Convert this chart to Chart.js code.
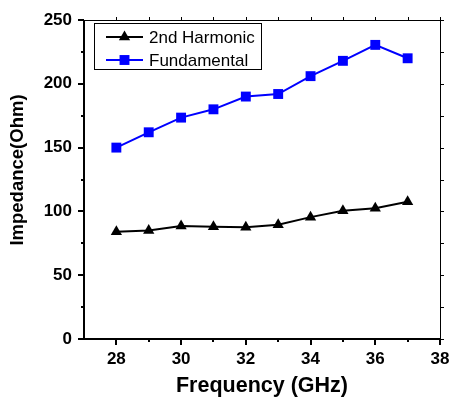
<!DOCTYPE html>
<html>
<head>
<meta charset="utf-8">
<script src="https://cdn.jsdelivr.net/npm/chart.js@4.4.0/dist/chart.umd.min.js"></script>
<style>
  html, body { margin: 0; padding: 0; background: #fff; }
</style>
</head>
<body>
<canvas id="chart" width="450" height="398"></canvas>
<script>
// data
const frequency = [28, 29, 30, 31, 32, 33, 34, 35, 36, 37];
const secondHarmonic = [84, 85, 88.5, 88, 87.5, 89.5, 95.5, 100.5, 102.5, 107.5];
const fundamental = [150, 162, 173.5, 180, 190, 192, 206, 218, 230.5, 220];
const xTicks = [28, 30, 32, 34, 36, 38];
const xMinorTicks = [29, 31, 33, 35, 37];
const yTicks = [0, 50, 100, 150, 200, 250];
const yMinorTicks = [25, 75, 125, 175, 225];
const yTitle = 'Impedance(Ohm)';

const FONT = "'Liberation Sans', Arial, sans-serif";

const toPoints = ys => frequency.map((x, i) => ({ x: x, y: ys[i] }));

// invisible grid, only used to push the tick labels away from the axis
const hiddenGrid = len => ({
    display: true,
    drawOnChartArea: false,
    drawTicks: true,
    tickLength: len,
    color: 'rgba(0,0,0,0)'
});

// Origin-style frame: thick left/bottom axes, thin mirrors, ticks outside
const framePlugin = {
    id: 'frame',
    afterDraw(chart) {
        const ctx = chart.ctx;
        const a = chart.chartArea;
        const xs = chart.scales.x;
        const ys = chart.scales.y;
        ctx.save();
        ctx.strokeStyle = '#000';

        // mirror axes
        ctx.lineWidth = 1;
        ctx.beginPath();
        ctx.moveTo(a.left, a.top + 0.5);
        ctx.lineTo(a.right, a.top + 0.5);
        ctx.moveTo(a.right + 0.5, a.top);
        ctx.lineTo(a.right + 0.5, a.bottom);
        ctx.stroke();

        // main axes
        ctx.lineWidth = 2;
        ctx.beginPath();
        ctx.moveTo(a.left, a.bottom);
        ctx.lineTo(a.right + 1, a.bottom);
        ctx.moveTo(a.left, a.top);
        ctx.lineTo(a.left, a.bottom + 1);
        ctx.stroke();

        // bottom / top ticks
        const tickX = (v, len) => {
            const px = Math.round(xs.getPixelForValue(v));
            ctx.beginPath();
            ctx.lineWidth = 2;
            ctx.moveTo(px, a.bottom);
            ctx.lineTo(px, a.bottom + len);
            ctx.stroke();
            ctx.lineWidth = 1;
            ctx.beginPath();
            ctx.moveTo(px + 0.5, a.top);
            ctx.lineTo(px + 0.5, a.top - 3);
            ctx.stroke();
        };
        xTicks.forEach(v => tickX(v, 6));
        xMinorTicks.forEach(v => tickX(v, 3));

        // left / right ticks
        const tickY = (v, len) => {
            const py = Math.round(ys.getPixelForValue(v));
            ctx.beginPath();
            ctx.lineWidth = 2;
            ctx.moveTo(a.left, py);
            ctx.lineTo(a.left - len, py);
            ctx.stroke();
            ctx.lineWidth = 1;
            ctx.beginPath();
            ctx.moveTo(a.right, py + 0.5);
            ctx.lineTo(a.right + 4, py + 0.5);
            ctx.stroke();
        };
        yTicks.forEach(v => tickY(v, 6));
        yMinorTicks.forEach(v => tickY(v, 3));

        // y title, sits a bit above the axis centre in the original
        ctx.translate(18, 170);
        ctx.rotate(-Math.PI / 2);
        ctx.fillStyle = '#000';
        ctx.font = 'bold 18.5px ' + FONT;
        ctx.textAlign = 'center';
        ctx.textBaseline = 'middle';
        ctx.fillText(yTitle, 0, 0);

        ctx.restore();
    }
};

// boxed legend with line sample + marker, like the original
const boxLegend = {
    id: 'boxLegend',
    afterDraw(chart) {
        const ctx = chart.ctx;
        const box = { x: 94.5, y: 23.5, w: 167, h: 46 };
        ctx.save();
        ctx.fillStyle = '#fff';
        ctx.fillRect(box.x, box.y, box.w, box.h);
        ctx.strokeStyle = '#000';
        ctx.lineWidth = 1;
        ctx.strokeRect(box.x, box.y, box.w, box.h);

        chart.data.datasets.forEach((ds, i) => {
            const cy = 37 + i * 23;
            ctx.strokeStyle = ds.borderColor;
            ctx.lineWidth = 2;
            ctx.beginPath();
            ctx.moveTo(106, cy);
            ctx.lineTo(143, cy);
            ctx.stroke();
            ctx.fillStyle = ds.pointBackgroundColor;
            ctx.strokeStyle = ds.pointBorderColor;
            Chart.helpers.drawPoint(ctx, {
                pointStyle: ds.pointStyle,
                radius: ds.pointRadius,
                rotation: 0,
                borderWidth: 0
            }, 124.5, cy);
            ctx.fillStyle = '#000';
            ctx.font = '17px ' + FONT;
            ctx.textBaseline = 'middle';
            ctx.textAlign = 'left';
            ctx.fillText(ds.label, 149, cy + 1);
        });
        ctx.restore();
    }
};

new Chart(document.getElementById('chart'), {
    type: 'line',
    data: {
        datasets: [{
            label: '2nd Harmonic',
            data: toPoints(secondHarmonic),
            borderColor: '#000',
            borderWidth: 2,
            pointStyle: 'triangle',
            pointRadius: 6.5,
            pointBackgroundColor: '#000',
            pointBorderColor: '#000',
            pointBorderWidth: 0
        }, {
            label: 'Fundamental',
            data: toPoints(fundamental),
            borderColor: '#0000ff',
            borderWidth: 2,
            pointStyle: 'rect',
            pointRadius: 7,
            pointBackgroundColor: '#0000ff',
            pointBorderColor: '#0000ff',
            pointBorderWidth: 0
        }]
    },
    options: {
        responsive: false,
        animation: false,
        layout: { padding: { left: 0, top: 20, right: 10, bottom: 0 } },
        plugins: {
            legend: { display: false },
            tooltip: { enabled: false }
        },
        scales: {
            x: {
                type: 'linear',
                min: 27,
                max: 38,
                afterBuildTicks: s => { s.ticks = xTicks.map(v => ({ value: v })); },
                afterFit: s => { s.height = 59; },
                grid: hiddenGrid(10),
                border: { display: false },
                ticks: {
                    padding: 0,
                    color: '#000',
                    maxRotation: 0,
                    font: { family: FONT, size: 17, weight: 'bold' }
                },
                title: {
                    display: true,
                    text: 'Frequency (GHz)',
                    color: '#000',
                    padding: { top: 0, bottom: 0 },
                    font: { family: FONT, size: 21.5, weight: 'bold', lineHeight: 1.1 }
                }
            },
            y: {
                min: 0,
                max: 250,
                afterBuildTicks: s => { s.ticks = yTicks.map(v => ({ value: v })); },
                afterFit: s => { s.width = 84; },
                grid: hiddenGrid(12),
                border: { display: false },
                ticks: {
                    padding: 0,
                    color: '#000',
                    font: { family: FONT, size: 17, weight: 'bold' }
                },
                title: { display: false }
            }
        }
    },
    plugins: [framePlugin, boxLegend]
});
</script>
</body>
</html>
